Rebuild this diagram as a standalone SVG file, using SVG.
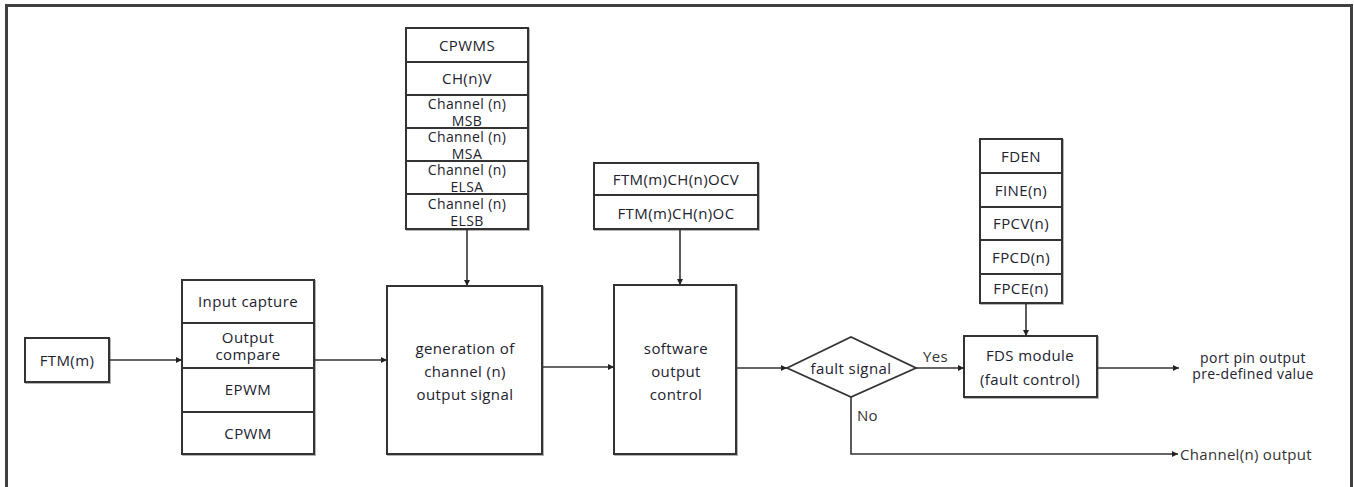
<svg xmlns="http://www.w3.org/2000/svg" width="1354" height="487" viewBox="0 0 1354 487">
<style>
.box{fill:#fff;stroke:#333;stroke-width:2}
.sh{fill:none;stroke:#b5b5b5;stroke-width:2}
.t{font-family:"Open Sans","Liberation Sans",sans-serif;font-size:15px;letter-spacing:0.4px;fill:#22222e;text-anchor:middle;dominant-baseline:central}
.s{font-size:14px}
.lbl{font-family:"Open Sans","Liberation Sans",sans-serif;font-size:15px;letter-spacing:0.3px;fill:#333;dominant-baseline:central}
.c{fill:none;stroke:#333;stroke-width:1.6}
</style>
<defs>
<marker id="ah" markerUnits="userSpaceOnUse" markerWidth="8" markerHeight="8" refX="6" refY="3" orient="auto">
<path d="M0,0 L6,3 L0,6 Z" fill="#222"/>
</marker>
</defs>
<rect width="1354" height="487" fill="#fff"/>
<path d="M6.5,490 V5.5 H1351.5 V490" fill="none" stroke="#404040" stroke-width="3"/>

<g id="ftm">
<rect class="sh" x="26" y="339" width="84" height="44"/>
<rect class="box" x="25" y="338" width="84" height="44"/>
<text class="t" x="67" y="360">FTM(m)</text>
</g>

<g id="modes">
<rect class="sh" x="183" y="281" width="132" height="174"/>
<rect class="box" x="182" y="280" width="132" height="43"/>
<rect class="box" x="182" y="323" width="132" height="45"/>
<rect class="box" x="182" y="368" width="132" height="44"/>
<rect class="box" x="182" y="412" width="132" height="42"/>
<text class="t" x="248" y="301">Input capture</text>
<text class="t" x="248" y="337">Output</text>
<text class="t" x="248" y="354">compare</text>
<text class="t" x="248" y="389">EPWM</text>
<text class="t" x="248" y="433">CPWM</text>
</g>

<g id="cfg">
<rect class="sh" x="407" y="29" width="122" height="201"/>
<rect class="box" x="406" y="28" width="122" height="34"/>
<rect class="box" x="406" y="62" width="122" height="33"/>
<rect class="box" x="406" y="95" width="122" height="33"/>
<rect class="box" x="406" y="128" width="122" height="33"/>
<rect class="box" x="406" y="161" width="122" height="33"/>
<rect class="box" x="406" y="194" width="122" height="35"/>
<text class="t" x="467" y="45">CPWMS</text>
<text class="t" x="467" y="78">CH(n)V</text>
<text class="t s" x="467" y="103">Channel (n)</text>
<text class="t s" x="467" y="120">MSB</text>
<text class="t s" x="467" y="136">Channel (n)</text>
<text class="t s" x="467" y="153">MSA</text>
<text class="t s" x="467" y="169">Channel (n)</text>
<text class="t s" x="467" y="186">ELSA</text>
<text class="t s" x="467" y="203">Channel (n)</text>
<text class="t s" x="467" y="220">ELSB</text>
</g>

<g id="gen">
<rect class="sh" x="388" y="287" width="155" height="168"/>
<rect class="box" x="387" y="286" width="155" height="168"/>
<text class="t" x="465" y="348">generation of</text>
<text class="t" x="465" y="371">channel (n)</text>
<text class="t" x="465" y="394">output signal</text>
</g>

<g id="ocv">
<rect class="sh" x="595" y="164" width="164" height="66"/>
<rect class="box" x="594" y="163" width="164" height="32"/>
<rect class="box" x="594" y="195" width="164" height="34"/>
<text class="t" x="676" y="179">FTM(m)CH(n)OCV</text>
<text class="t" x="676" y="213">FTM(m)CH(n)OC</text>
</g>

<g id="sw">
<rect class="sh" x="615" y="286" width="122" height="169"/>
<rect class="box" x="614" y="285" width="122" height="169"/>
<text class="t" x="676" y="348">software</text>
<text class="t" x="676" y="371">output</text>
<text class="t" x="676" y="394">control</text>
</g>

<g id="fault">
<polygon points="787,368 851,337 916,368 851,397" fill="#fff" stroke="#333" stroke-width="1.8"/>
<text class="t" x="851" y="368">fault signal</text>
</g>

<g id="fden">
<rect class="sh" x="981" y="140" width="82" height="164"/>
<rect class="box" x="980" y="139" width="82" height="34"/>
<rect class="box" x="980" y="173" width="82" height="34"/>
<rect class="box" x="980" y="207" width="82" height="33"/>
<rect class="box" x="980" y="240" width="82" height="34"/>
<rect class="box" x="980" y="274" width="82" height="29"/>
<text class="t" x="1021" y="156">FDEN</text>
<text class="t" x="1021" y="190">FINE(n)</text>
<text class="t" x="1021" y="223">FPCV(n)</text>
<text class="t" x="1021" y="257">FPCD(n)</text>
<text class="t" x="1021" y="288">FPCE(n)</text>
</g>

<g id="fds">
<rect class="sh" x="965" y="337" width="133" height="61"/>
<rect class="box" x="964" y="336" width="133" height="61"/>
<text class="t" x="1030" y="355">FDS module</text>
<text class="t" x="1030" y="379">(fault control)</text>
</g>

<g id="outs">
<text class="t s" x="1253" y="357">port pin output</text>
<text class="t s" x="1253" y="373">pre-defined value</text>
<text class="lbl" x="1180" y="454">Channel(n) output</text>
</g>

<g id="connectors">
<path class="c" d="M109,360 H182" marker-end="url(#ah)"/>
<path class="c" d="M314,360 H387" marker-end="url(#ah)"/>
<path class="c" d="M467,229 V286" marker-end="url(#ah)"/>
<path class="c" d="M680,229 V285" marker-end="url(#ah)"/>
<path class="c" d="M542,367 H614" marker-end="url(#ah)"/>
<path class="c" d="M736,368 H787" marker-end="url(#ah)"/>
<path class="c" d="M916,368 H964" marker-end="url(#ah)"/>
<path class="c" d="M1026,303 V336" marker-end="url(#ah)"/>
<path class="c" d="M1097,368 H1179" marker-end="url(#ah)"/>
<path class="c" d="M851,397 V454 H1178" marker-end="url(#ah)"/>
<text class="lbl" x="923" y="356">Yes</text>
<text class="lbl" x="857" y="415">No</text>
</g>
</svg>
